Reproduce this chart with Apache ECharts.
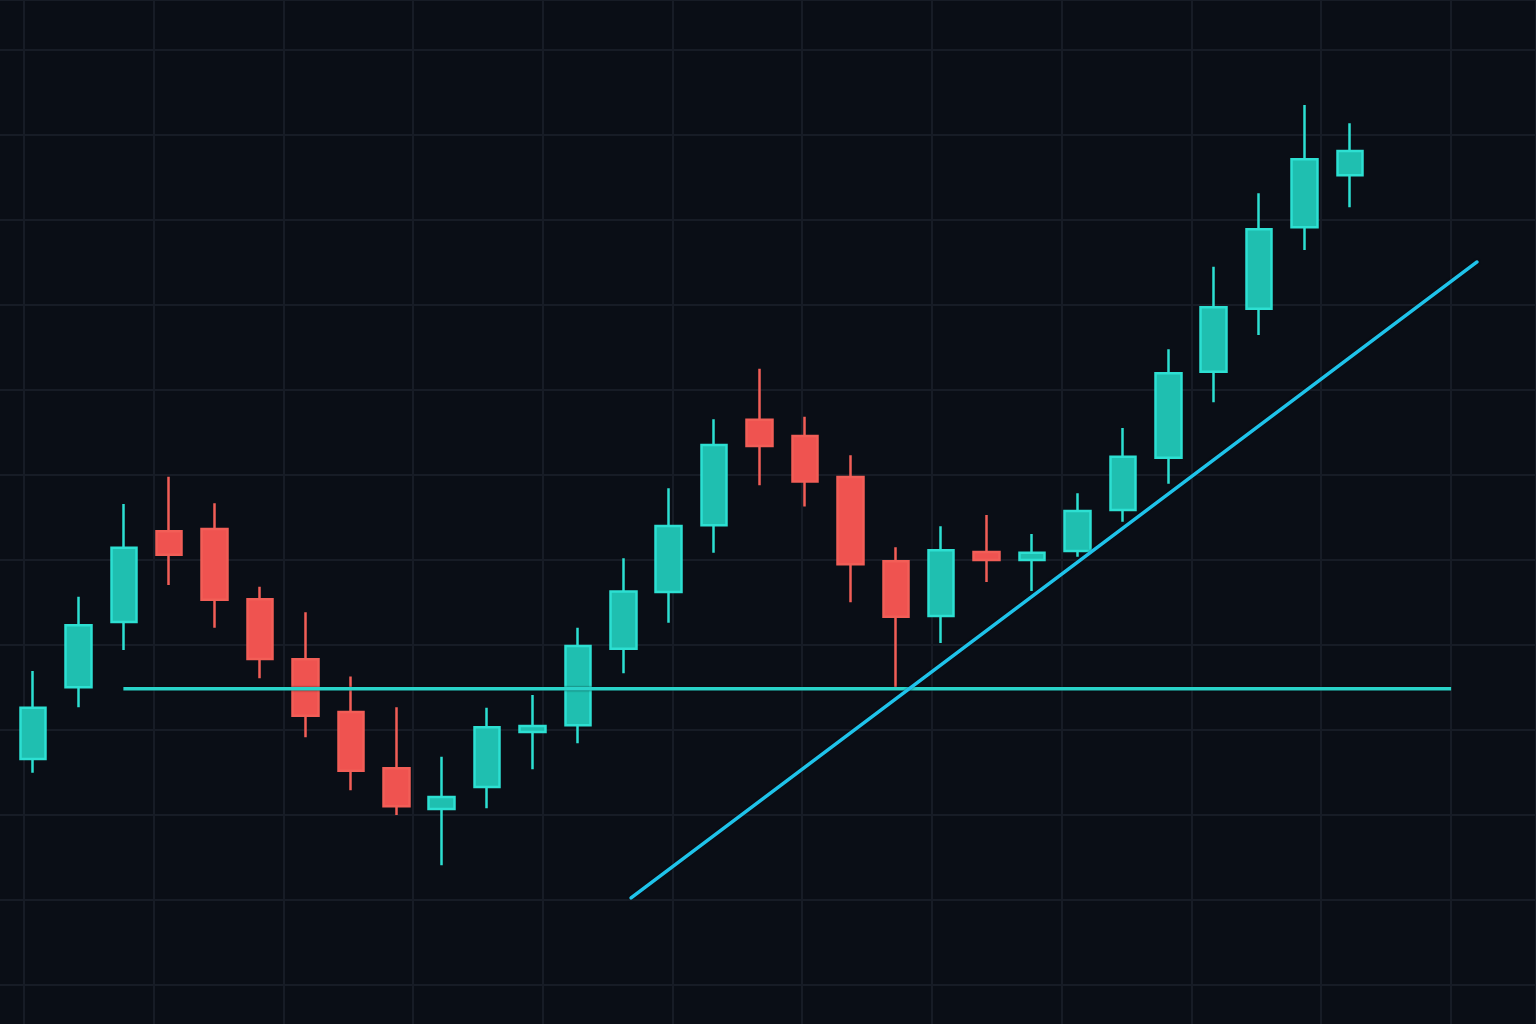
<!DOCTYPE html>
<html>
<head>
<meta charset="utf-8">
<script src="https://cdn.jsdelivr.net/npm/echarts@6/dist/echarts.min.js"></script>
<style>
html,body{margin:0;padding:0;background:#0a0e16;}
#chart{width:1536px;height:1024px;}
</style>
</head>
<body>
<div id="chart"></div>
<script>
// Candles: [open, close, low, high]
const categories = ['1','2','3','4','5','6','7','8','9','10','11','12','13','14','15','16','17','18','19','20','21','22','23','24','25','26','27','28','29','30'];
const opens  = [113.29,117.51,121.35,126.69,126.82,122.69,119.16,116.06,112.75,110.35,111.65,114.88,115.28,119.78,123.12,127.04,133.25,132.29,129.88,124.92,121.71,125.47,125.00,125.53,127.94,131.02,136.08,139.78,144.57,147.63];
const closes = [116.31,121.16,125.72,125.31,122.66,119.18,115.84,112.61,110.51,111.06,115.16,115.24,119.94,123.14,127.00,131.76,131.71,129.61,124.75,121.66,125.57,125.00,125.43,127.88,131.08,135.98,139.86,144.45,148.57,149.06];
const lows   = [112.49,116.34,119.71,123.53,121.02,118.04,114.57,111.45,110.00,107.04,110.39,112.69,114.22,118.34,121.31,125.43,129.39,128.14,122.51,117.35,120.12,123.71,123.18,125.19,127.25,129.49,134.28,138.24,143.24,145.75];
const highs  = [118.47,122.84,128.29,129.90,128.34,123.43,121.92,118.14,116.34,113.43,116.31,117.06,121.02,125.10,129.22,133.28,136.25,133.43,131.16,125.75,126.98,127.65,126.53,128.92,132.76,137.39,142.25,146.57,151.76,150.69];

// Support line and trend line, as [candle index, price]
const supportLine = [[1.99, 117.43], [31.23, 117.43]];
const trendLine   = [[13.17, 105.12], [31.80, 142.53]];

const candleData = categories.map((c, i) => [opens[i], closes[i], lows[i], highs[i]]);

const gridColor = '#171c26';
const hidden = { axisLine:{show:false}, axisTick:{show:false}, axisLabel:{show:false} };

const chart = echarts.init(document.getElementById('chart'));
chart.setOption({
  backgroundColor: '#0a0e16',
  animation: false,
  grid: [
    { left: 24, right: 0, top: 0, bottom: 0 },        // vertical grid lines
    { left: 0, right: 0, top: 0, bottom: 39 },        // horizontal grid lines
    { left: 10.3, right: 163.4, top: 0, bottom: 39 }, // candles (30 slots)
    { left: 10.3, right: 27.2, top: 0, bottom: 39 }   // same scale, extended 3 slots for drawn lines
  ],
  xAxis: [
    Object.assign({ type:'value', gridIndex:0, min:0, max:11.657, interval:1,
      splitLine:{show:true, lineStyle:{color:gridColor, width:2}} }, hidden),
    Object.assign({ type:'value', gridIndex:1, min:0, max:1, splitLine:{show:false} }, hidden),
    Object.assign({ type:'category', gridIndex:2, data:categories, boundaryGap:true, splitLine:{show:false} }, hidden),
    Object.assign({ type:'value', gridIndex:3, min:-0.5, max:32.5, splitLine:{show:false} }, hidden)
  ],
  yAxis: [
    Object.assign({ type:'value', gridIndex:0, min:0, max:1, splitLine:{show:false} }, hidden),
    Object.assign({ type:'value', gridIndex:1, min:100, max:157.94, interval:5,
      splitLine:{show:true, lineStyle:{color:gridColor, width:2}} }, hidden),
    Object.assign({ type:'value', gridIndex:2, min:100, max:157.94, splitLine:{show:false} }, hidden),
    Object.assign({ type:'value', gridIndex:3, min:100, max:157.94, splitLine:{show:false} }, hidden)
  ],
  series: [
    {
      type:'line', xAxisIndex:3, yAxisIndex:3, data:supportLine, symbol:'none',
      lineStyle:{color:'#2ad3c9', width:3.5, shadowColor:'rgba(0,0,0,0.7)', shadowBlur:2}
    },
    {
      type:'line', xAxisIndex:3, yAxisIndex:3, data:trendLine, symbol:'none',
      lineStyle:{color:'#1fc3ea', width:3.5, cap:'round', shadowColor:'rgba(0,0,0,0.5)', shadowBlur:2}
    },
    {
      type:'candlestick', xAxisIndex:2, yAxisIndex:2, data:candleData, barWidth:26,
      itemStyle:{
        color:'#1fbfb0', color0:'#ef5350',
        borderColor:'#2de0d2', borderColor0:'#f25e57', borderWidth:2.5
      }
    }
  ]
});
</script>
</body>
</html>
